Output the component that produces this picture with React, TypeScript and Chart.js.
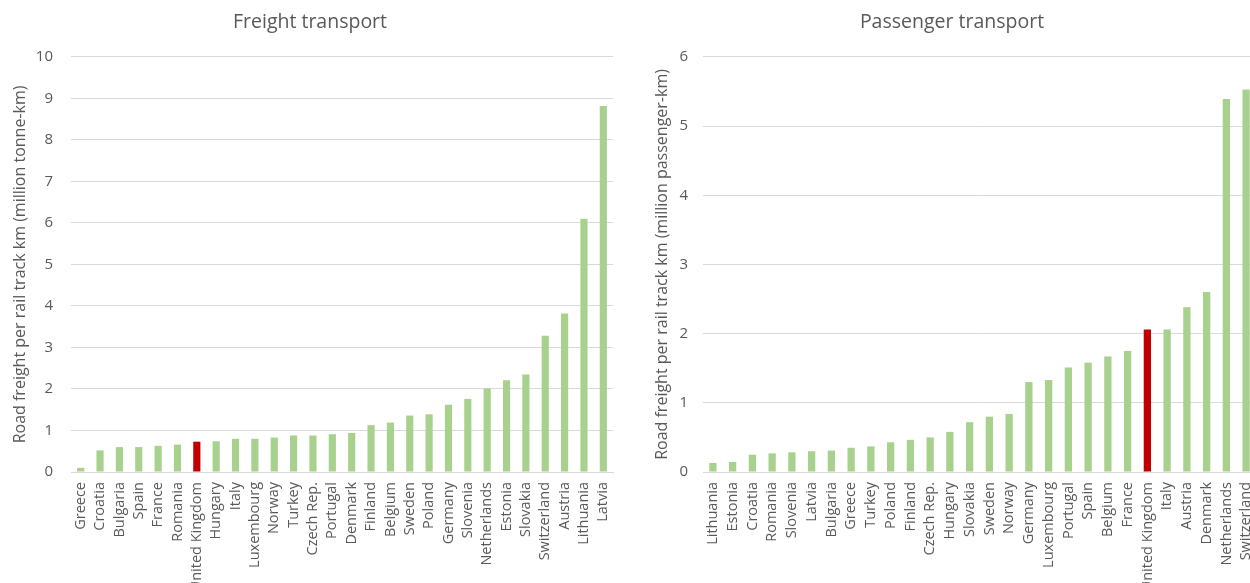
import React, { useEffect, useRef } from "react";
import { Chart, registerables } from "chart.js";

Chart.register(...registerables);

const freightCountries = [
  "Greece", "Croatia", "Bulgaria", "Spain", "France", "Romania", "United Kingdom",
  "Hungary", "Italy", "Luxembourg", "Norway", "Turkey", "Czech Rep.", "Portugal",
  "Denmark", "Finland", "Belgium", "Sweden", "Poland", "Germany", "Slovenia",
  "Netherlands", "Estonia", "Slovakia", "Switzerland", "Austria", "Lithuania", "Latvia",
];
const freightValues = [
  0.1, 0.52, 0.6, 0.6, 0.63, 0.66, 0.73, 0.74, 0.8, 0.8, 0.83, 0.88, 0.88, 0.91,
  0.94, 1.13, 1.19, 1.36, 1.39, 1.62, 1.76, 2.01, 2.21, 2.35, 3.28, 3.82, 6.1, 8.82,
];

const passengerCountries = [
  "Lithuania", "Estonia", "Croatia", "Romania", "Slovenia", "Latvia", "Bulgaria",
  "Greece", "Turkey", "Poland", "Finland", "Czech Rep.", "Hungary", "Slovakia",
  "Sweden", "Norway", "Germany", "Luxembourg", "Portugal", "Spain", "Belgium",
  "France", "United Kingdom", "Italy", "Austria", "Denmark", "Netherlands", "Switzerland",
];
const passengerValues = [
  0.13, 0.145, 0.25, 0.27, 0.285, 0.3, 0.31, 0.35, 0.37, 0.43, 0.465, 0.5, 0.58, 0.72,
  0.8, 0.84, 1.3, 1.33, 1.51, 1.58, 1.67, 1.75, 2.06, 2.06, 2.38, 2.6, 5.39, 5.53,
];

const freightTitle = "Freight transport";
const passengerTitle = "Passenger transport";
const freightAxisTitle = "Road freight per rail track km (million tonne-km)";
const passengerAxisTitle = "Road freight per rail track km (million passenger-km)";
const freightMax = 10;
const passengerMax = 6;

const highlight = "United Kingdom";
const GREEN = "#A9D18E";
const RED = "#C00000";
const TEXT = "#595959";
const GRID = "#D9D9D9";
const FONT = "'Open Sans', 'DejaVu Sans', sans-serif";

const CANVAS_H = 700;
const PLOT_BOTTOM = 472;

type Cfg = {
  labels: string[];
  values: number[];
  title: string;
  axisTitle: string;
  max: number;
  padLeft: number;
  padRight: number;
  yWidth: number;
  yTitlePad: number;
  yTickPad: number;
};

function build(canvas: HTMLCanvasElement, c: Cfg) {
  return new Chart(canvas, {
    type: "bar",
    data: {
      labels: c.labels,
      datasets: [
        {
          data: c.values,
          backgroundColor: c.labels.map((l) => (l === highlight ? RED : GREEN)),
          barPercentage: 0.37,
          categoryPercentage: 1,
        },
      ],
    },
    options: {
      responsive: false,
      animation: false,
      devicePixelRatio: 1,
      layout: { padding: { left: c.padLeft, right: c.padRight, top: 0, bottom: 0 } },
      plugins: {
        legend: { display: false },
        tooltip: { enabled: false },
        title: {
          display: true,
          text: c.title,
          color: TEXT,
          font: { family: FONT, size: 19.5, weight: "normal" },
          padding: { top: 10.5, bottom: 23 },
        },
      },
      scales: {
        x: {
          grid: { display: false, drawTicks: false },
          border: { display: true, color: GRID },
          ticks: {
            autoSkip: false,
            minRotation: 90,
            maxRotation: 90,
            padding: 10,
            color: TEXT,
            font: { family: FONT, size: 14.5 },
          },
          afterFit: (scale: any) => {
            scale.height = CANVAS_H - PLOT_BOTTOM;
            scale.paddingLeft = 0;
            scale.paddingRight = 0;
          },
        },
        y: {
          min: 0,
          max: c.max,
          grid: { color: GRID, lineWidth: 1, drawTicks: false },
          border: { display: false },
          ticks: {
            stepSize: 1,
            padding: c.yTickPad,
            color: TEXT,
            font: { family: FONT, size: 15 },
          },
          title: {
            display: true,
            text: c.axisTitle,
            color: TEXT,
            font: { family: FONT, size: 16, weight: "normal" },
            padding: { top: c.yTitlePad, bottom: 0 },
          },
          afterFit: (scale: any) => {
            scale.width = c.yWidth;
          },
        },
      },
    },
  });
}

export default function App() {
  const leftRef = useRef<HTMLCanvasElement>(null);
  const rightRef = useRef<HTMLCanvasElement>(null);

  useEffect(() => {
    const a = build(leftRef.current!, {
      labels: freightCountries,
      values: freightValues,
      title: freightTitle,
      axisTitle: freightAxisTitle,
      max: freightMax,
      padLeft: 7,
      padRight: 7,
      yWidth: 64,
      yTitlePad: 4,
      yTickPad: 18,
    });
    const b = build(rightRef.current!, {
      labels: passengerCountries,
      values: passengerValues,
      title: passengerTitle,
      axisTitle: passengerAxisTitle,
      max: passengerMax,
      padLeft: 8,
      padRight: 9,
      yWidth: 55,
      yTitlePad: 5,
      yTickPad: 15,
    });
    return () => {
      a.destroy();
      b.destroy();
    };
  }, []);

  return (
    <div
      style={{
        position: "fixed",
        left: 0,
        top: 0,
        width: 1250,
        height: 583,
        overflow: "hidden",
        background: "#fff",
      }}
    >
      <canvas
        ref={leftRef}
        width={620}
        height={CANVAS_H}
        style={{ position: "absolute", left: 0, top: 0, width: 620, height: CANVAS_H }}
      />
      <canvas
        ref={rightRef}
        width={625}
        height={CANVAS_H}
        style={{ position: "absolute", left: 640, top: 0, width: 625, height: CANVAS_H }}
      />
    </div>
  );
}
